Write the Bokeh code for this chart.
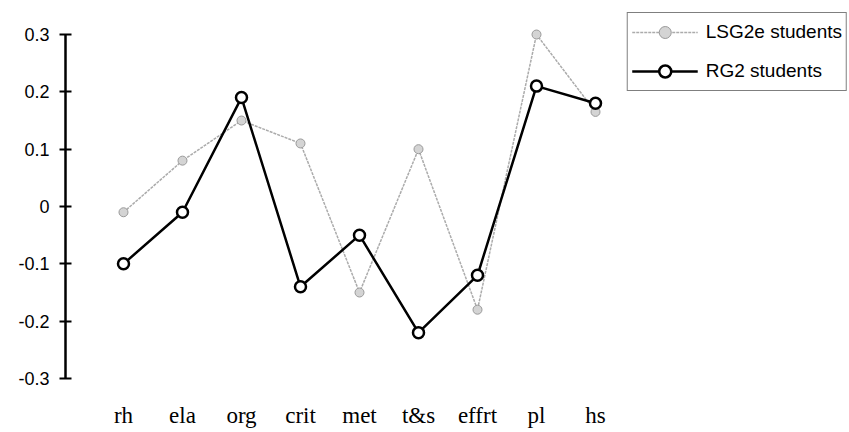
from bokeh.plotting import figure
from bokeh.models import Range1d, FixedTicker, Legend, LegendItem
from bokeh.embed import file_html
from bokeh.resources import INLINE

categories = ["rh", "ela", "org", "crit", "met", "t&s", "effrt", "pl", "hs"]
lsg2e = [-0.01, 0.08, 0.15, 0.11, -0.15, 0.10, -0.18, 0.30, 0.165]
rg2 = [-0.10, -0.01, 0.19, -0.14, -0.05, -0.22, -0.12, 0.21, 0.18]
y_ticks = [-0.3, -0.2, -0.1, 0, 0.1, 0.2, 0.3]
y_tick_labels = ["-0.3", "-0.2", "-0.1", "0", "0.1", "0.2", "0.3"]

xs = list(range(len(categories)))

SANS = "'Liberation Sans'"
SERIF = "'Liberation Serif'"

p = figure(width=849, height=432, output_backend="svg", toolbar_location=None,
           x_range=Range1d(-0.983, 12.305), y_range=Range1d(-0.3, 0.3419),
           min_border_left=65, min_border_right=0, min_border_top=10, min_border_bottom=54)
p.outline_line_color = None
p.xgrid.visible = False
p.ygrid.visible = False
p.background_fill_color = "white"

# Y axis
ya = p.yaxis[0]
ya.ticker = FixedTicker(ticks=y_ticks)
ya.major_label_overrides = {t: l for t, l in zip(y_ticks, y_tick_labels)}
ya.bounds = (-0.3, 0.3)
ya.axis_line_width = 2.5
ya.axis_line_color = "black"
ya.major_tick_in = 6
ya.major_tick_out = 6
ya.major_tick_line_width = 2
ya.minor_tick_line_color = None
ya.major_label_standoff = 10
ya.major_label_text_font = SANS
ya.major_label_text_font_style = "normal"
ya.major_label_text_font_size = "18px"
ya.major_label_text_color = "black"

# X axis
xa = p.xaxis[0]
xa.ticker = FixedTicker(ticks=xs)
xa.major_label_overrides = {i: c for i, c in zip(xs, categories)}
xa.axis_line_color = None
xa.major_tick_line_color = None
xa.minor_tick_line_color = None
xa.major_tick_out = 0
xa.major_tick_in = 0
xa.major_label_standoff = 24
xa.major_label_text_font = SERIF
xa.major_label_text_font_style = "normal"
xa.major_label_text_font_size = "23px"
xa.major_label_text_color = "black"

# LSG2e series (light gray, dotted look)
l1 = p.line(xs, lsg2e, line_color="#ababab", line_width=1.5, line_dash="3 1")
m1 = p.scatter(xs, lsg2e, marker="circle", size=9, fill_color="#d4d4d4",
               line_color="#9a9a9a", line_width=1)

# RG2 series (black, hollow circles)
l2 = p.line(xs, rg2, line_color="black", line_width=2.5)
m2 = p.scatter(xs, rg2, marker="circle", size=11, fill_color="white",
               line_color="black", line_width=2.5)

legend = Legend(items=[
    LegendItem(label="LSG2e students", renderers=[l1, m1]),
    LegendItem(label="RG2 students", renderers=[l2, m2]),
], location="top_right")
legend.margin = 2
legend.padding = 4
legend.spacing = 9
legend.glyph_width = 66
legend.glyph_height = 30
legend.label_height = 30
legend.label_standoff = 8
legend.label_text_font = SANS
legend.label_text_font_size = "19px"
legend.label_text_color = "black"
legend.border_line_color = "black"
legend.border_line_width = 1.5
legend.background_fill_color = "white"
legend.background_fill_alpha = 1
p.add_layout(legend)

open("out.html", "w").write(file_html(p, INLINE))
